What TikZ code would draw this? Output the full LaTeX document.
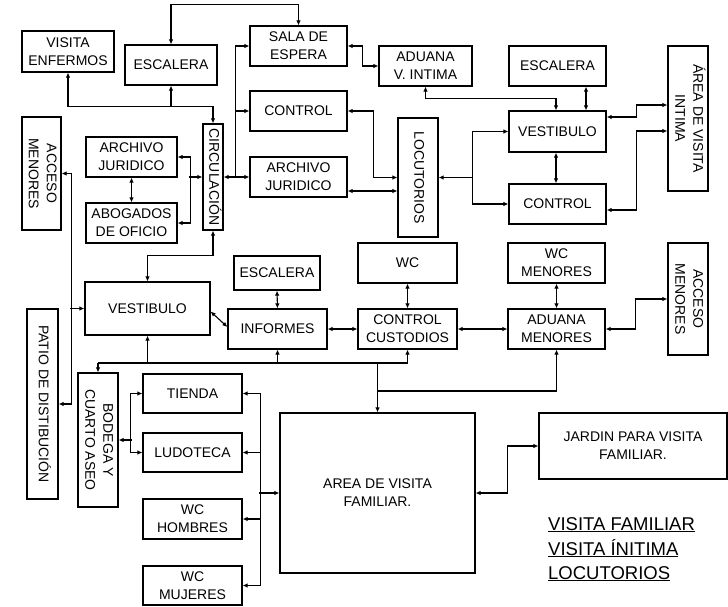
\documentclass[tikz,border=0pt]{standalone}
\usepackage{fontspec}
\usetikzlibrary{arrows.meta}
\newfontfamily\hand{Liberation Sans}
\newcommand{\boxfont}{\hand\fontsize{14}{18}\selectfont}
\newcommand{\legfont}{\hand\fontsize{18.5}{22}\selectfont}
\newcommand{\vtext}[1]{\rotatebox{-90}{\begin{tabular}{@{}c@{}}#1\end{tabular}}}
\tikzset{
  box/.style={draw, line width=1.2pt, inner sep=0pt, align=center, font=\boxfont},
  wire/.style={line width=1.1pt},
  both/.style={wire, {Latex[length=5pt,width=4.5pt]}-{Latex[length=5pt,width=4.5pt]}},
  tip/.style={wire, -{Latex[length=5pt,width=4.5pt]}},
}
\begin{document}
\begin{tikzpicture}[x=1pt,y=-1pt]
\useasboundingbox (0,0) rectangle (728,607);
% boxes
\node[box, minimum width=92pt, minimum height=41pt] (ve) at (68,51.5) {VISITA\\ENFERMOS};
\node[box, minimum width=92pt, minimum height=40pt] (esc1) at (171,65) {ESCALERA};
\node[box, minimum width=39pt, minimum height=113pt] (acc1) at (41.5,173.5) {\vtext{ACCESO\\MENORES}};
\node[box, minimum width=91pt, minimum height=40pt] (arj1) at (131.5,157) {ARCHIVO\\JURIDICO};
\node[box, minimum width=91pt, minimum height=40pt] (abo) at (131.5,223) {ABOGADOS\\DE OFICIO};
\node[box, minimum width=20pt, minimum height=106pt] (cir) at (213,177) {\vtext{CIRCULACIÓN}};
\node[box, minimum width=97pt, minimum height=40pt] (sal) at (298.5,46) {SALA DE\\ESPERA};
\node[box, minimum width=93pt, minimum height=40pt] (adv) at (425.5,66) {ADUANA\\V. INTIMA};
\node[box, minimum width=97pt, minimum height=40pt] (ctl1) at (298.5,111) {CONTROL};
\node[box, minimum width=97pt, minimum height=40pt] (arj2) at (298.5,177) {ARCHIVO\\JURIDICO};
\node[box, minimum width=40pt, minimum height=119pt] (loc) at (418,177.5) {\vtext{LOCUTORIOS}};
\node[box, minimum width=97pt, minimum height=40pt] (esc2) at (557.5,66) {ESCALERA};
\node[box, minimum width=97pt, minimum height=41pt] (vesR) at (557.5,131.5) {VESTIBULO};
\node[box, minimum width=97pt, minimum height=40pt] (ctlR) at (557.5,204) {CONTROL};
\node[box, minimum width=40pt, minimum height=145pt] (avi) at (688,118.5) {\vtext{ÁREA DE VISITA\\INTIMA}};
\node[box, minimum width=125pt, minimum height=53pt] (vesL) at (147.5,308.5) {VESTIBULO};
\node[box, minimum width=31pt, minimum height=190pt] (pat) at (42.5,404) {\vtext{PATIO DE DISTIBUCIÓN}};
\node[box, minimum width=86pt, minimum height=34pt] (esc3) at (277,273) {ESCALERA};
\node[box, minimum width=99pt, minimum height=40pt] (inf) at (277.5,329) {INFORMES};
\node[box, minimum width=99pt, minimum height=40pt] (wc) at (407.5,263) {WC};
\node[box, minimum width=99pt, minimum height=40pt] (cc) at (407.5,329) {CONTROL\\CUSTODIOS};
\node[box, minimum width=97pt, minimum height=40pt] (wcm) at (556.5,263) {WC\\MENORES};
\node[box, minimum width=97pt, minimum height=40pt] (adm) at (556.5,329) {ADUANA\\MENORES};
\node[box, minimum width=40pt, minimum height=112pt] (acc2) at (688,299) {\vtext{ACCESO\\MENORES}};
\node[box, minimum width=40pt, minimum height=134pt] (bod) at (98,440) {\vtext{BODEGA Y\\CUARTO ASEO}};
\node[box, minimum width=99pt, minimum height=39pt] (tie) at (192.5,393.5) {TIENDA};
\node[box, minimum width=99pt, minimum height=39pt] (lud) at (192.5,452.5) {LUDOTECA};
\node[box, minimum width=99pt, minimum height=40pt] (wch) at (192.5,519) {WC\\HOMBRES};
\node[box, minimum width=99pt, minimum height=39pt] (wcmj) at (192.5,585.5) {WC\\MUJERES};
\node[box, minimum width=195pt, minimum height=160pt] (afam) at (377.5,493) {AREA DE VISITA\\FAMILIAR.};
\node[box, minimum width=188pt, minimum height=66pt] (jar) at (633,446) {JARDIN PARA VISITA\\FAMILIAR.};
% legend
\node[anchor=base west, font=\legfont, inner sep=0pt] (lg1) at (548,530) {\underline{VISITA FAMILIAR}};
\node[anchor=base west, font=\legfont, inner sep=0pt] (lg2) at (548,555) {\underline{VISITA ÍNITIMA}};
\node[anchor=base west, font=\legfont, inner sep=0pt] (lg3) at (548,579) {\underline{LOCUTORIOS}};
% connectors top-left
\draw[both] (esc1.north) -- ++(0,-40) -| (sal.north);
\draw[both] (ve.south) -- ++(0,34) -| (cir.north);
\draw[tip] ([yshift=-21pt]esc1.south) -- (esc1.south);
\draw[both] (arj1.east) -- ++(13,0) |- (abo.east);
\draw[tip] ([xshift=-13pt]cir.west) -- (cir.west);
\draw[both] (arj1.south) -- (abo.north);
\draw[both] (cir.east) -- (arj2.west);
\draw[tip] ([xshift=-14pt]arj2.west) |- (sal.west);
\draw[tip] ([xshift=-14pt]ctl1.west) -- (ctl1.west);
\draw[both] (sal.east) -- ++(15,0) |- (adv.west);
\draw[both] (ctl1.east) -- ++(26,0) |- (loc.west);
\draw[both] ([yshift=-14pt]arj2.east) -- ([yshift=-14pt]arj2.east -| loc.west);
% right top
\draw[both] (adv.south) -- ++(0,12) -| ([xshift=-1.5pt]vesR.north);
\draw[both] (loc.east) -- ++(34,0) |- (vesR.west);
\draw[tip] ([xshift=34pt]loc.east) |- (ctlR.west);
\draw[both] ([xshift=28.5pt]esc2.south) -- ([xshift=28.5pt]vesR.north);
\draw[both] ([xshift=-1.5pt]vesR.south) -- ([xshift=-1.5pt]ctlR.north);
\draw[both] ([yshift=14.5pt]vesR.east) -- ++(30,0) |- ([yshift=13.5pt]avi.west);
\draw[both] ([yshift=-6pt]ctlR.east) -- ++(30,0) |- ([yshift=-12.5pt]avi.west);
% left vertical
\draw[both] (acc1.east) -- ++(10,0) |- (pat.east);
\draw[tip] ([xshift=-14pt]vesL.west) -- (vesL.west);
\draw[both] (cir.south) -- ++(0,25) -| (vesL.north);
% middle row
\draw[both] ([yshift=-3pt]vesL.east) -- ([yshift=2pt]inf.west);
\draw[both] (esc3.south) -- (inf.north);
\draw[both] (inf.east) -- (cc.west);
\draw[both] (wc.south) -- (cc.north);
\draw[both] (cc.east) -- (adm.west);
\draw[both] (wcm.south) -- (adm.north);
\draw[both] (adm.east) -- ++(30,0) |- (acc2.west);
% bus
\coordinate (busL) at (98,363);
\coordinate (busR) at (407.5,363);
\coordinate (bus2) at (377.5,391);
\draw[wire] (busL) -- (busR);
\draw[tip] (busL) -- (bod.north);
\draw[tip] (vesL.south |- busL) -- (vesL.south);
\draw[tip] (inf.south |- busL) -- (inf.south);
\draw[tip] (busR) -- (cc.south);
\draw[tip] (afam.north |- busL) -- (afam.north);
\draw[tip] (bus2) -| (adm.south);
% lower left
\draw[both] (tie.east) -- ++(18,0) |- (wcmj.east);
\draw[tip] ([xshift=18pt]lud.east) -- (lud.east);
\draw[tip] ([xshift=18pt]wch.east) -- (wch.east);
\draw[tip] ([xshift=-20pt]afam.west) -- (afam.west);
\draw[both] (tie.west) -- ++(-12,0) |- (lud.west);
\draw[tip] ([xshift=13pt]bod.east) -- (bod.east);
% garden
\draw[both] (afam.east) -- ++(32,0) |- (jar.west);
\end{tikzpicture}
\end{document}
